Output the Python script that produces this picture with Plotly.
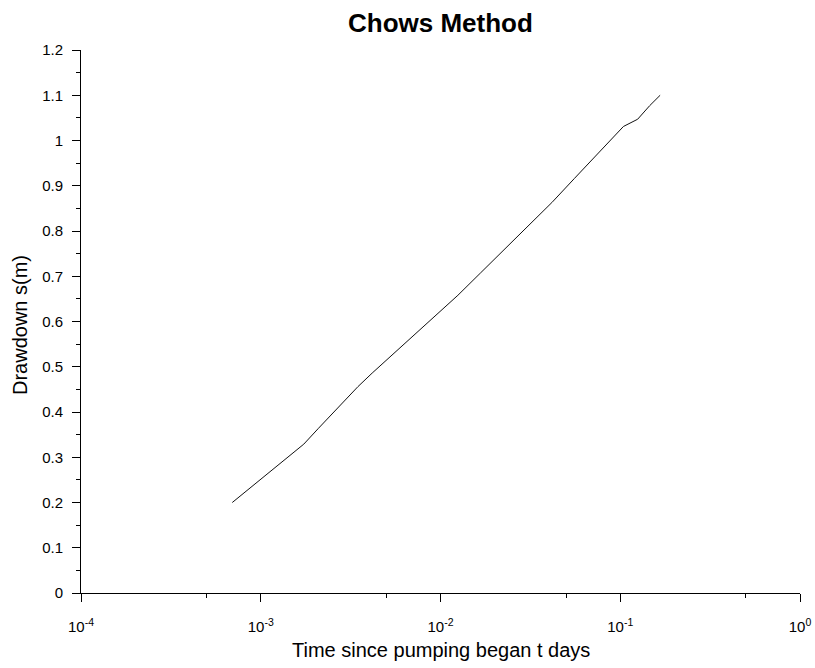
import plotly.graph_objects as go

# Pumping test record: elapsed time (minutes) and observed drawdown (m)
time_min = [1, 1.5, 2, 2.5, 3, 4, 5, 6, 8, 10, 12, 14, 18, 24, 30,
            40, 50, 60, 80, 100, 120, 150, 180, 210, 240]
drawdown_m = [0.200, 0.257, 0.297, 0.329, 0.363, 0.415, 0.456, 0.486, 0.531,
              0.565, 0.593, 0.617, 0.658, 0.707, 0.745, 0.794, 0.832, 0.863,
              0.916, 0.957, 0.991, 1.031, 1.047, 1.077, 1.100]

# Axis tick positions and labels
x_major = [1e-4, 1e-3, 1e-2, 1e-1, 1]
x_major_text = ["10<sup>-4</sup>", "10<sup>-3</sup>", "10<sup>-2</sup>",
                "10<sup>-1</sup>", "10<sup>0</sup>"]
x_minor = [5e-4, 5e-3, 5e-2, 5e-1]

time_days = [t / 1440.0 for t in time_min]

FONT = "Liberation Sans, Arial, Helvetica, sans-serif"

fig = go.Figure()
fig.add_trace(go.Scatter(
    x=time_days, y=drawdown_m, mode="lines",
    line=dict(color="#111111", width=1),
    showlegend=False,
))

fig.update_layout(
    width=815, height=668,
    margin=dict(l=81, r=15, t=50, b=75, autoexpand=False),
    paper_bgcolor="white", plot_bgcolor="white",
    font=dict(family=FONT, color="black"),
    xaxis=dict(
        type="log", range=[-4, 0], automargin=False,
        tickmode="array", tickvals=x_major, ticktext=x_major_text,
        ticks="outside", ticklen=8, tickwidth=1, tickcolor="black",
        minor=dict(tickmode="array", tickvals=x_minor, ticks="outside",
                   ticklen=4, tickwidth=1, tickcolor="black"),
        showline=True, linecolor="black", linewidth=1,
        showgrid=False, zeroline=False,
        tickfont=dict(size=15, family=FONT, color="black"),
        ticklabelstandoff=12,
    ),
    yaxis=dict(
        range=[0, 1.2], tickmode="linear", tick0=0, dtick=0.1,
        automargin=False,
        ticks="outside", ticklen=8, tickwidth=1, tickcolor="black",
        minor=dict(dtick=0.05, ticks="outside", ticklen=4, tickwidth=1,
                   tickcolor="black"),
        showline=True, linecolor="black", linewidth=1,
        showgrid=False, zeroline=False,
        tickfont=dict(size=15, family=FONT, color="black"),
        ticklabelstandoff=6,
    ),
    annotations=[
        dict(text="<b>Chows Method</b>", xref="paper", yref="paper",
             x=0.5, y=(593 - 23) / 543, xanchor="center", yanchor="middle",
             showarrow=False, font=dict(size=26, family=FONT, color="black")),
        dict(text="Time since pumping began t days", xref="paper", yref="paper",
             x=0.5, y=(593 - 650) / 543, xanchor="center", yanchor="middle",
             showarrow=False, font=dict(size=20, family=FONT, color="black")),
        dict(text="Drawdown s(m)", xref="paper", yref="paper",
             x=(20 - 81) / 719, y=(593 - 325) / 543, textangle=-90,
             xanchor="center", yanchor="middle",
             showarrow=False, font=dict(size=20, family=FONT, color="black")),
    ],
)

fig.write_html("out.html")
